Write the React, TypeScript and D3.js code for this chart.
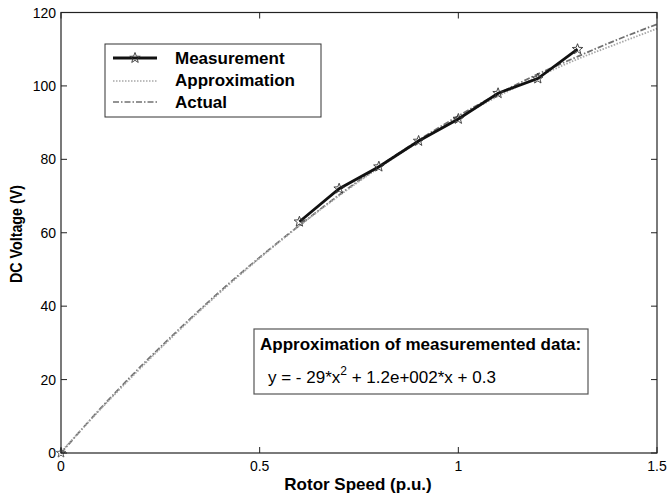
import React from "react";
import * as d3 from "d3";

const measX = [0.6, 0.7, 0.8, 0.9, 1.0, 1.1, 1.2, 1.3];
const measY = [63, 72, 78, 85, 91, 98, 102, 110];
const originX = [0];
const originY = [0];
const curveX = [0, 0.1, 0.2, 0.3, 0.4, 0.5, 0.6, 0.7, 0.8, 0.9, 1.0, 1.1, 1.2, 1.3, 1.4, 1.5];
const approxY = [0.3, 12.0, 23.1, 33.7, 43.7, 53.1, 61.9, 70.1, 77.7, 84.8, 91.3, 97.2, 102.5, 107.3, 111.5, 115.6];
const actualY = [0, 12.2, 23.5, 34.0, 44.0, 53.3, 62.0, 70.3, 78.0, 85.2, 91.8, 97.8, 103.2, 108.0, 112.6, 116.8];
const xTicks = [0, 0.5, 1, 1.5];
const yTicks = [0, 20, 40, 60, 80, 100, 120];
const legendLabels = ["Measurement", "Approximation", "Actual"];

const W = 667, H = 498;
const L = 61, R = 657, T = 12.5, B = 453;

function starPath(cx: number, cy: number, r: number) {
  const pts: string[] = [];
  for (let i = 0; i < 10; i++) {
    const a = -Math.PI / 2 + (i * Math.PI) / 5;
    const rr = i % 2 === 0 ? r : r * 0.42;
    pts.push(`${(cx + rr * Math.cos(a)).toFixed(2)},${(cy + rr * Math.sin(a)).toFixed(2)}`);
  }
  return "M" + pts.join("L") + "Z";
}

export default function App() {
  const x = d3.scaleLinear().domain([0, 1.5]).range([L, R]);
  const y = d3.scaleLinear().domain([0, 120]).range([B, T]);
  const line = d3.line<[number, number]>().x((d) => x(d[0])).y((d) => y(d[1])).curve(d3.curveMonotoneX);
  const lineStraight = d3.line<[number, number]>().x((d) => x(d[0])).y((d) => y(d[1]));
  const approx = curveX.map((v, i) => [v, approxY[i]] as [number, number]);
  const actual = curveX.map((v, i) => [v, actualY[i]] as [number, number]);
  const meas = measX.map((v, i) => [v, measY[i]] as [number, number]);
  const font = "Arial, 'Liberation Sans', Helvetica, sans-serif";
  return (
    <svg width={W} height={H} style={{ position: "absolute", left: 0, top: 0, background: "#fff" }} fontFamily={font}>
      <rect x={0} y={0} width={W} height={H} fill="#fff" />
      {/* curves */}
      <path d={line(actual) || ""} fill="none" stroke="#707070" strokeWidth={1.8} strokeDasharray="6,2,1.5,2" />
      <path d={line(approx) || ""} fill="none" stroke="#a8a8a8" strokeWidth={1.8} strokeDasharray="1.5,1.5" />
      <path d={lineStraight(meas) || ""} fill="none" stroke="#111" strokeWidth={2.8} />
      {meas.map((d, i) => (
        <path key={i} d={starPath(x(d[0]), y(d[1]), 5.5)} fill="none" stroke="#333" strokeWidth={0.9} />
      ))}
      {originX.map((v, i) => (
        <path key={"o" + i} d={starPath(x(v), y(originY[i]), 5)} fill="none" stroke="#555" strokeWidth={0.9} />
      ))}
      {/* frame */}
      <rect x={L} y={T} width={R - L} height={B - T} fill="none" stroke="#222" strokeWidth={1.2} />
      {xTicks.map((t) => (
        <g key={"x" + t}>
          <line x1={x(t)} x2={x(t)} y1={B} y2={B - 6} stroke="#222" />
          <line x1={x(t)} x2={x(t)} y1={T} y2={T + 6} stroke="#222" />
          <text x={x(t)} y={B + 18} textAnchor="middle" fontSize={14}>{t}</text>
        </g>
      ))}
      {yTicks.map((t) => (
        <g key={"y" + t}>
          <line x1={L} x2={L + 6} y1={y(t)} y2={y(t)} stroke="#222" />
          <line x1={R} x2={R - 6} y1={y(t)} y2={y(t)} stroke="#222" />
          <text x={L - 5} y={y(t) + 5} textAnchor="end" fontSize={14}>{t}</text>
        </g>
      ))}
      <text x={358} y={490} textAnchor="middle" fontSize={17} fontWeight="bold">Rotor Speed (p.u.)</text>
      <text transform={`translate(22,234) rotate(-90)`} textAnchor="middle" fontSize={16} fontWeight="bold" textLength={98} lengthAdjust="spacingAndGlyphs">DC Voltage (V)</text>
      {/* legend */}
      <rect x={105} y={44} width={216} height={73} fill="#fff" stroke="#333" strokeWidth={1} />
      <line x1={113} x2={157} y1={58} y2={58} stroke="#111" strokeWidth={2.8} />
      <path d={starPath(135, 58, 5.5)} fill="none" stroke="#333" strokeWidth={0.9} />
      <line x1={113} x2={157} y1={81} y2={81} stroke="#a8a8a8" strokeWidth={1.5} strokeDasharray="1.5,1.5" />
      <line x1={113} x2={157} y1={102} y2={102} stroke="#707070" strokeWidth={1.5} strokeDasharray="6,2,1.5,2" />
      {legendLabels.map((l, i) => (
        <text key={l} x={175} y={64 + i * 22} fontSize={17} fontWeight="bold">{l}</text>
      ))}
      {/* annotation */}
      <rect x={254} y={329} width={334} height={65} fill="#fff" stroke="#555" strokeWidth={1.2} />
      <text x={260} y={350} fontSize={17} fontWeight="bold">Approximation of measuremented data:</text>
      <text x={268} y={383} fontSize={17}>
        y = - 29*x<tspan dy={-8} fontSize={12}>2</tspan><tspan dy={8}> + 1.2e+002*x + 0.3</tspan>
      </text>
    </svg>
  );
}
